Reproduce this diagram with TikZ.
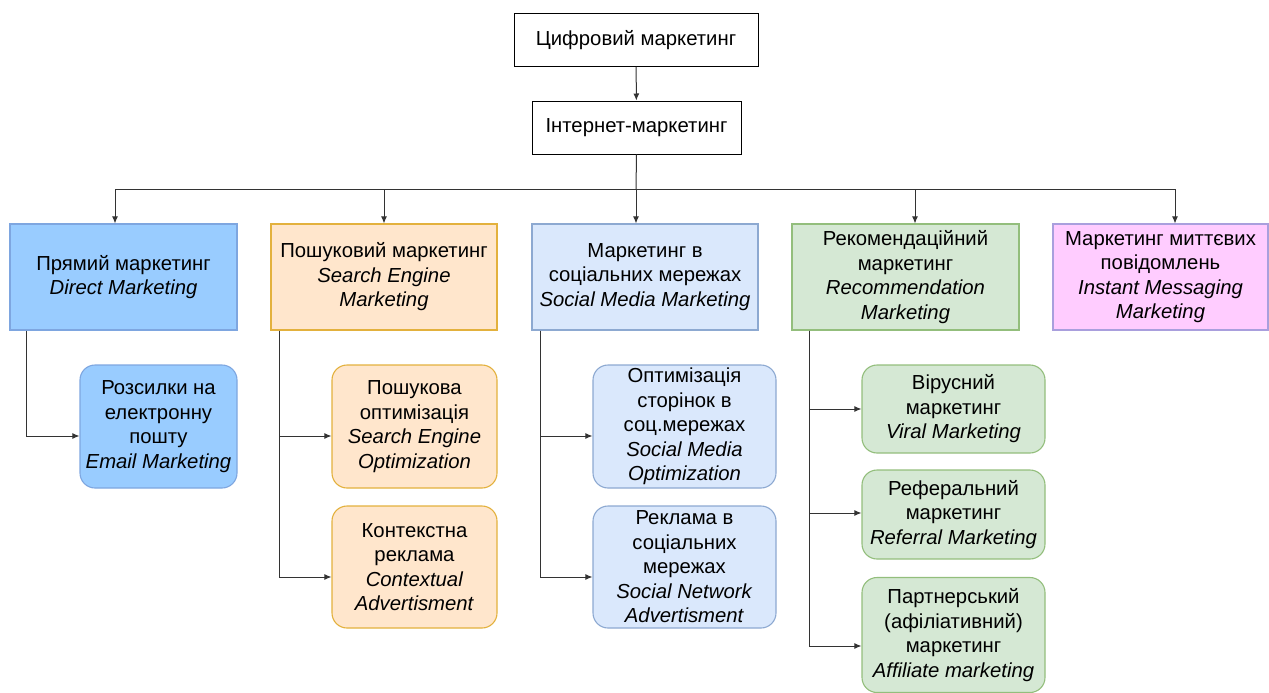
\documentclass[tikz,border=0pt]{standalone}
\usepackage{fontspec}
\setmainfont{Liberation Sans}
\usetikzlibrary{arrows.meta}
\definecolor{bluefill}{HTML}{99CCFF}
\definecolor{bluedraw}{HTML}{7EA6E0}
\definecolor{orfill}{HTML}{FFE6CC}
\definecolor{ordraw}{HTML}{D79B00}
\definecolor{lbfill}{HTML}{DAE8FC}
\definecolor{lbdraw}{HTML}{6C8EBF}
\definecolor{grfill}{HTML}{D5E8D4}
\definecolor{grdraw}{HTML}{82B366}
\definecolor{pkfill}{HTML}{FFCCFF}
\definecolor{pkdraw}{HTML}{A99FDD}
\definecolor{linec}{HTML}{333333}
\tikzset{
  box/.style={draw=black, line width=1pt, fill=white, inner sep=0pt, align=center,
    font=\fontsize{20.3}{24.5}\selectfont},
  catbox/.style={box, line width=1.1pt},
  subbox/.style={box, line width=1.1pt, rounded corners=15pt},
  blue/.style={fill=bluefill, draw=bluedraw},
  orng/.style={fill=orfill, draw=ordraw!70!orfill},
  lblue/.style={fill=lbfill, draw=lbdraw!70!lbfill},
  grn/.style={fill=grfill, draw=grdraw!80!grfill},
  pnk/.style={fill=pkfill, draw=pkdraw},
  conn/.style={draw=linec, line width=1pt},
  arr/.style={conn, -{Latex[length=7pt,width=6pt]}},
}
\begin{document}
\begin{tikzpicture}[x=1pt,y=-1pt]
\useasboundingbox (0,0) rectangle (1269,693);
% top
\node[box, minimum width=244pt, minimum height=53pt] (dig) at (636,40) {Цифровий маркетинг};
\node[box, minimum width=209pt, minimum height=53pt] (inet) at (636.5,127.5) {Інтернет-маркетинг};
% level 2
\node[catbox, blue, minimum width=227pt, minimum height=106pt] (dm) at (123.5,277) {Прямий маркетинг\\\textit{Direct Marketing}};
\node[catbox, orng, minimum width=226pt, minimum height=106pt] (sem) at (384,277) {Пошуковий маркетинг\\\textit{Search Engine}\\\textit{Marketing}};
\node[catbox, lblue, minimum width=226pt, minimum height=106pt] (smm) at (645,277) {Маркетинг в\\соціальних мережах\\\textit{Social Media Marketing}};
\node[catbox, grn, minimum width=227pt, minimum height=106pt] (rec) at (905.5,277) {Рекомендаційний\\маркетинг\\\textit{Recommendation}\\\textit{Marketing}};
\node[catbox, pnk, minimum width=215pt, minimum height=106pt] (imm) at (1160.5,277) {Маркетинг миттєвих\\повідомлень\\\textit{Instant Messaging}\\\textit{Marketing}};
% level 3
\node[subbox, blue, minimum width=157pt, minimum height=123pt] (email) at (158.5,426.5) {Розсилки на\\електронну\\пошту\\\textit{Email Marketing}};
\node[subbox, orng, minimum width=165pt, minimum height=123pt] (seo) at (414.5,426.5) {Пошукова\\оптимізація\\\textit{Search Engine}\\\textit{Optimization}};
\node[subbox, orng, minimum width=165pt, minimum height=122pt] (ctx) at (414.5,567) {Контекстна\\реклама\\\textit{Contextual}\\\textit{Advertisment}};
\node[subbox, lblue, minimum width=183pt, minimum height=123pt] (smo) at (684.5,426.5) {Оптимізація\\сторінок в\\соц.мережах\\\textit{Social Media}\\\textit{Optimization}};
\node[subbox, lblue, minimum width=183pt, minimum height=122pt] (sna) at (684.5,567) {Реклама в\\соціальних\\мережах\\\textit{Social Network}\\\textit{Advertisment}};
\node[subbox, grn, minimum width=183pt, minimum height=88pt] (vir) at (953.5,409) {Вірусний\\маркетинг\\\textit{Viral Marketing}};
\node[subbox, grn, minimum width=183pt, minimum height=89pt] (ref) at (953.5,514.5) {Реферальний\\маркетинг\\\textit{Referral Marketing}};
\node[subbox, grn, minimum width=183pt, minimum height=115pt] (aff) at (953.5,635) {Партнерський\\(афіліативний)\\маркетинг\\\textit{Affiliate marketing}};
% connectors
\draw[arr] (dig) -- (inet);
\coordinate (bus) at (636,189);
\coordinate (j1) at (115,189);
\coordinate (j2) at (384,189);
\coordinate (j4) at (915,189);
\coordinate (j5) at (1175,189);
\draw[conn] (inet.south) -- (bus);
\draw[conn] (j1) -- (j5);
\draw[arr] (j1) -- (j1 |- dm.north);
\draw[arr] (j2) -- (j2 |- sem.north);
\draw[arr] (bus) -- (bus |- smm.north);
\draw[arr] (j4) -- (j4 |- rec.north);
\draw[arr] (j5) -- (j5 |- imm.north);
\draw[arr] ([xshift=17pt]dm.south west) |- ([yshift=-9.5pt]email.west);
\draw[arr] ([xshift=9pt]sem.south west) |- ([yshift=-9.5pt]seo.west);
\draw[arr] ([xshift=9pt]sem.south west) |- ([yshift=-10pt]ctx.west);
\draw[arr] ([xshift=9pt]smm.south west) |- ([yshift=-9.5pt]smo.west);
\draw[arr] ([xshift=9pt]smm.south west) |- ([yshift=-10pt]sna.west);
\draw[arr] ([xshift=18pt]rec.south west) |- (vir.west);
\draw[arr] ([xshift=18pt]rec.south west) |- ([yshift=1.5pt]ref.west);
\draw[arr] ([xshift=18pt]rec.south west) |- ([yshift=-11pt]aff.west);
\end{tikzpicture}
\end{document}
